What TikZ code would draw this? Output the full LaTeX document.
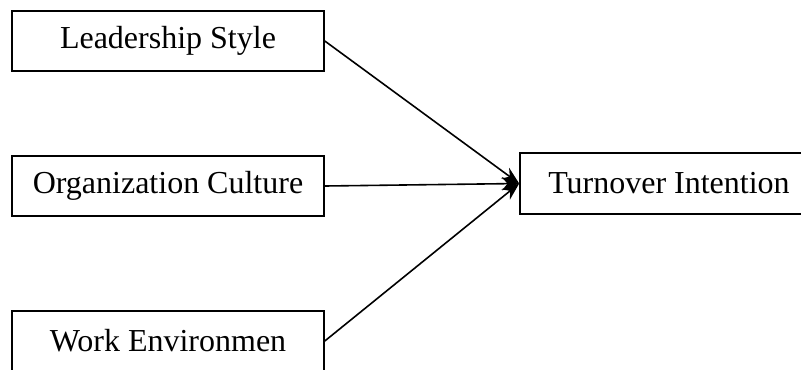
\documentclass[tikz,border=0pt]{standalone}
\usepackage{fontspec}
\setmainfont{Liberation Serif}
\usetikzlibrary{arrows.meta}
\tikzstyle{box}=[rectangle,draw=black,line width=1.2pt,minimum width=234pt,minimum height=45pt,inner sep=0pt,font=\fontsize{24}{28}\selectfont]
\tikzstyle{arr}=[line width=1.2pt,-{Stealth[length=13pt,width=10pt]}]

\begin{document}
\begin{tikzpicture}[x=0.75pt,y=-0.75pt]
\useasboundingbox (0,0) rectangle (801,369);
\node[box] (lead) at (168,41) {Leadership Style};
\node[box] (org) at (168,186) {Organization Culture};
\node[box] (work) at (168,341) {Work Environmen};
\node[box,minimum width=223.5pt,minimum height=45.75pt] (turn) at (669,183.5) {Turnover Intention};
\draw[arr] (lead.east) -- (turn.west);
\draw[arr] (org.east) -- (turn.west);
\draw[arr] (work.east) -- (turn.west);
\end{tikzpicture}
\end{document}
